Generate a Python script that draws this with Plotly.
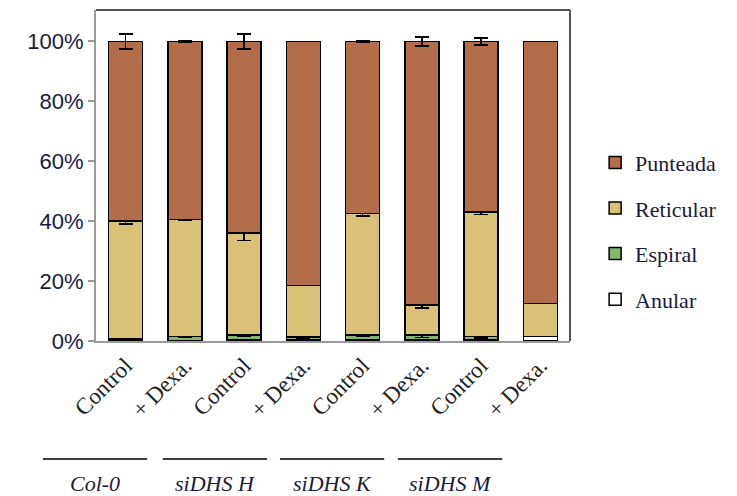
import plotly.graph_objects as go

categories = ["Control", "+ Dexa.", "Control ", "+ Dexa. ", "Control  ", "+ Dexa.  ", "Control   ", "+ Dexa.   "]
tick_text = ["Control", "+ Dexa.", "Control", "+ Dexa.", "Control", "+ Dexa.", "Control", "+ Dexa."]
groups = ["Col-0", "siDHS H", "siDHS K", "siDHS M"]

anular = [0.3, 0.0, 0.5, 0.5, 0.5, 0.5, 0.3, 1.5]
espiral = [0.4, 1.5, 1.5, 0.8, 1.5, 1.5, 1.2, 0.0]
reticular = [39.3, 39.0, 34.0, 17.2, 40.5, 10.0, 41.5, 11.0]
punteada = [60.0, 59.5, 64.0, 81.5, 57.5, 88.0, 57.0, 87.5]

espiral_err = [0.3, 0.3, 0.5, 0.3, 0.5, 0.8, 0.5, 0.0]
reticular_err = [1.0, 0.3, 2.5, 0.0, 0.8, 1.0, 0.8, 0.0]
punteada_err = [2.5, 0.3, 2.5, 0.0, 0.3, 1.5, 1.2, 0.0]

y_ticks = [0, 20, 40, 60, 80, 100]
y_tick_labels = ["0%", "20%", "40%", "60%", "80%", "100%"]

series = [
    ("Anular", anular, None, "#ffffff", 4),
    ("Espiral", espiral, espiral_err, "#86b46a", 3),
    ("Reticular", reticular, reticular_err, "#d9c277", 2),
    ("Punteada", punteada, punteada_err, "#b36d48", 1),
]

fig = go.Figure()
for name, vals, err, color, rank in series:
    kw = {}
    if err is not None:
        kw["error_y"] = dict(type="data", array=err, visible=True, color="#000000",
                             thickness=1.6, width=7)
    fig.add_trace(go.Bar(
        x=categories, y=vals, name=name, legendgroup=name, legendrank=rank,
        marker=dict(color=color, line=dict(color="#000000", width=1.5)),
        width=0.57, **kw,
    ))

fig.update_layout(
    barmode="stack",
    width=729, height=488,
    margin=dict(l=88, r=167, t=2, b=155),
    plot_bgcolor="#ffffff", paper_bgcolor="#ffffff",
    showlegend=True,
    legend=dict(x=1.053, y=0.332, xanchor="left", yanchor="middle",
                traceorder="grouped", tracegroupgap=14,
                font=dict(family="Liberation Serif", size=22, color="#1a1a3a"),
                itemwidth=30),
    xaxis=dict(tickmode="array", tickvals=categories, ticktext=tick_text,
               tickangle=-45, tickfont=dict(family="Liberation Serif", size=23, color="#222222"),
               showline=True, linecolor="#9a9a9a", linewidth=2, ticks="",
               showgrid=False, range=[-0.5, 7.5]),
    yaxis=dict(range=[0, 110.5], tickvals=y_ticks, ticktext=y_tick_labels,
               tickfont=dict(family="Liberation Sans", size=22, color="#1a1a40"),
               showline=True, linecolor="#9a9a9a", linewidth=2,
               ticks="outside", ticklen=6, tickcolor="#9a9a9a", tickwidth=2,
               showgrid=False, zeroline=False),
)

# plot frame (top and right borders)
fig.add_shape(type="line", xref="paper", yref="paper", x0=0, x1=1, y0=1, y1=1,
              line=dict(color="#555555", width=2))
fig.add_shape(type="line", xref="paper", yref="paper", x0=1, x1=1, y0=0, y1=1,
              line=dict(color="#555555", width=2))

# group labels
line_spans = [(-0.112, 0.108), (0.141, 0.361), (0.388, 0.608), (0.637, 0.857)]
for g, (a, b) in zip(groups, line_spans):
    fig.add_shape(type="line", xref="paper", yref="paper", x0=a, x1=b, y0=-0.3565, y1=-0.3565,
                  line=dict(color="#000000", width=1.5))
    fig.add_annotation(text=f"<i>{g}</i>", xref="paper", yref="paper", x=(a + b) / 2, y=-0.432,
                       showarrow=False, xanchor="center", yanchor="middle",
                       font=dict(family="Liberation Serif", size=22, color="#1a1a3a"))

fig.write_html("out.html")
